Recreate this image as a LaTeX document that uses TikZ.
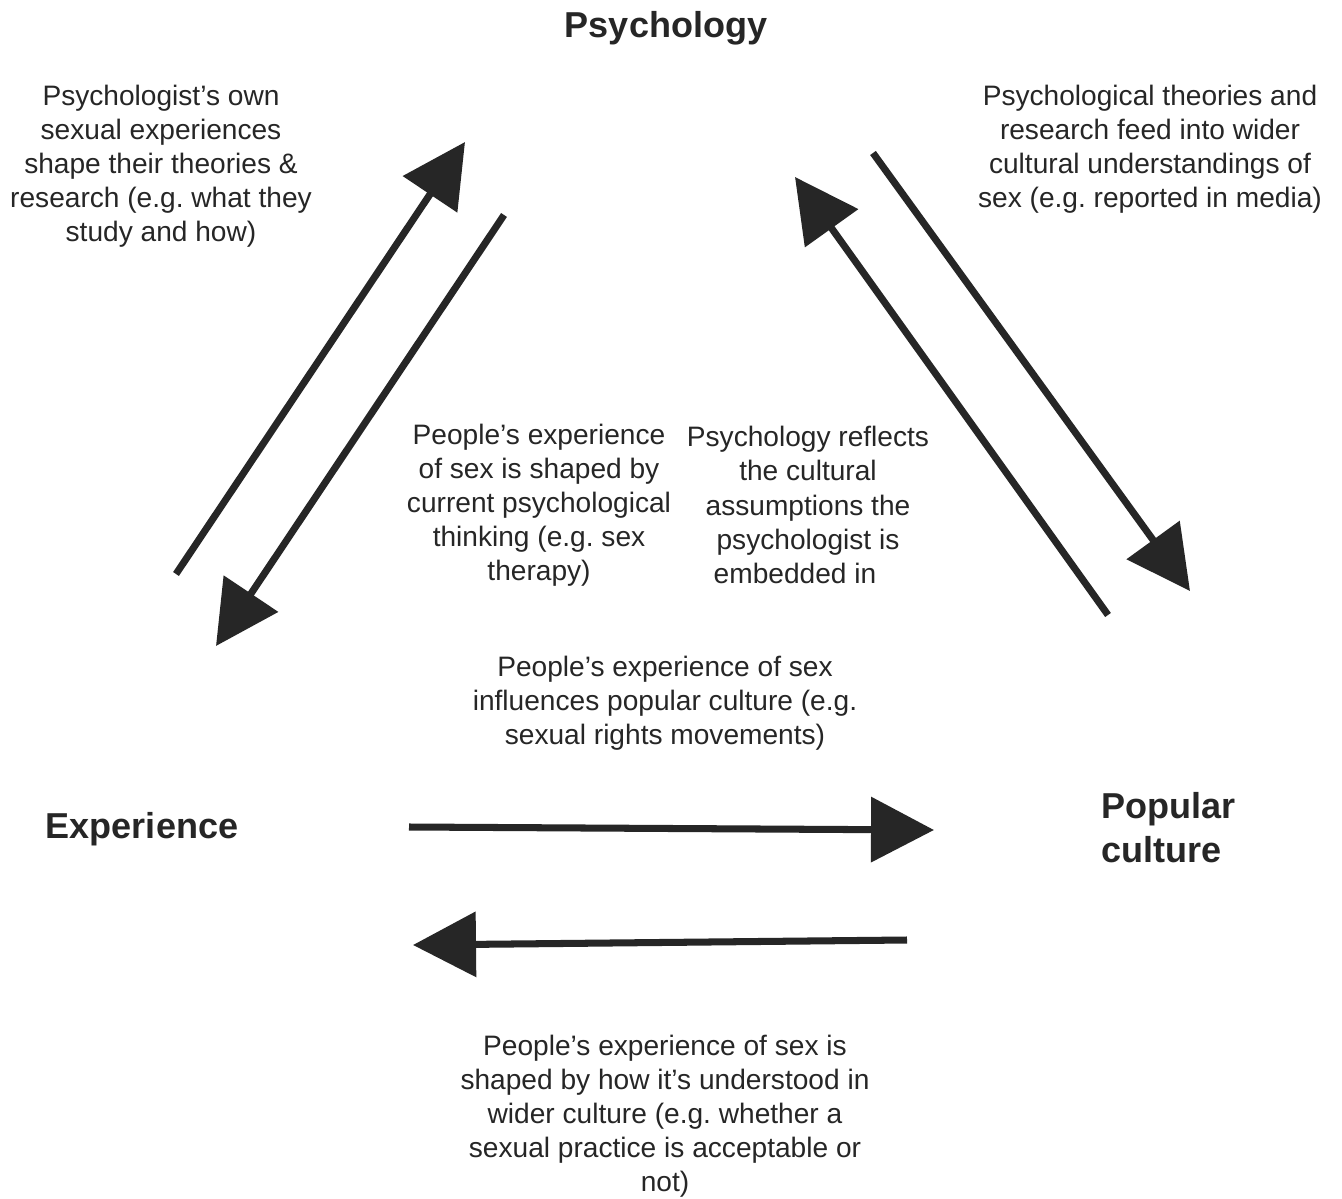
\documentclass[tikz,border=0pt]{standalone}
\usepackage{fontspec}
\setmainfont{Liberation Sans}
\usetikzlibrary{arrows.meta}
\definecolor{ink}{RGB}{38,38,38}
\frenchspacing
\tikzset{
  note/.style={align=center, inner sep=0pt, text=ink, font=\frenchspacing\fontsize{16}{19.4}\selectfont},
  title/.style={inner sep=0pt, text=ink, font=\fontsize{20.5}{25}\selectfont\bfseries},
  bigarrow/.style={draw=ink, line width=4pt, -{Triangle[length=1.26cm,width=1.28cm]}, fill=ink},
}
\begin{document}
\begin{tikzpicture}[x=0.02cm,y=-0.02cm]
\useasboundingbox[fill=white] (0,0) rectangle (1342,1199);
% titles
\node[title] (psy) at (666,28) {Psychology};
\node[title] (exp) at (142,829) {Experience};
\node[title, align=left, anchor=west] (pop) at (1101,828) {Popular\\culture};
% notes
\node[note] (tl) at (161,166) {Psychologist’s own\\sexual experiences\\shape their theories \&\\research (e.g. what they\\study and how)};
\node[note] (tr) at (1150,149) {Psychological theories and\\research feed into wider\\cultural understandings of\\sex (e.g. reported in media)};
\node[note] (ml) at (539,505) {People’s experience\\of sex is shaped by\\current psychological\\thinking (e.g. sex\\therapy)};
\node[note] (mr) at (808,505) {Psychology reflects\\the cultural\\assumptions the\\psychologist is\\embedded in\hspace*{0.52cm}};
\node[note] (mid) at (665,703) {People’s experience of sex\\influences popular culture (e.g.\\sexual rights movements)};
\node[note] (bot) at (665,1116) {People’s experience of sex is\\shaped by how it’s understood in\\wider culture (e.g. whether a\\sexual practice is acceptable or\\not)};
% arrow end points
\coordinate (a1s) at (176,574); \coordinate (a1e) at (465,142);
\coordinate (a2s) at (504,215); \coordinate (a2e) at (216,646);
\coordinate (a3s) at (1108,615); \coordinate (a3e) at (795,177);
\coordinate (a4s) at (873,153); \coordinate (a4e) at (1190,591);
\coordinate (a5s) at (409,827); \coordinate (a5e) at (934,830);
\coordinate (a6s) at (907,940); \coordinate (a6e) at (413,945);
% arrows
\draw[bigarrow] (a1s) -- (a1e);
\draw[bigarrow] (a2s) -- (a2e);
\draw[bigarrow] (a3s) -- (a3e);
\draw[bigarrow] (a4s) -- (a4e);
\draw[bigarrow] (a5s) -- (a5e);
\draw[bigarrow] (a6s) -- (a6e);
\end{tikzpicture}
\end{document}
